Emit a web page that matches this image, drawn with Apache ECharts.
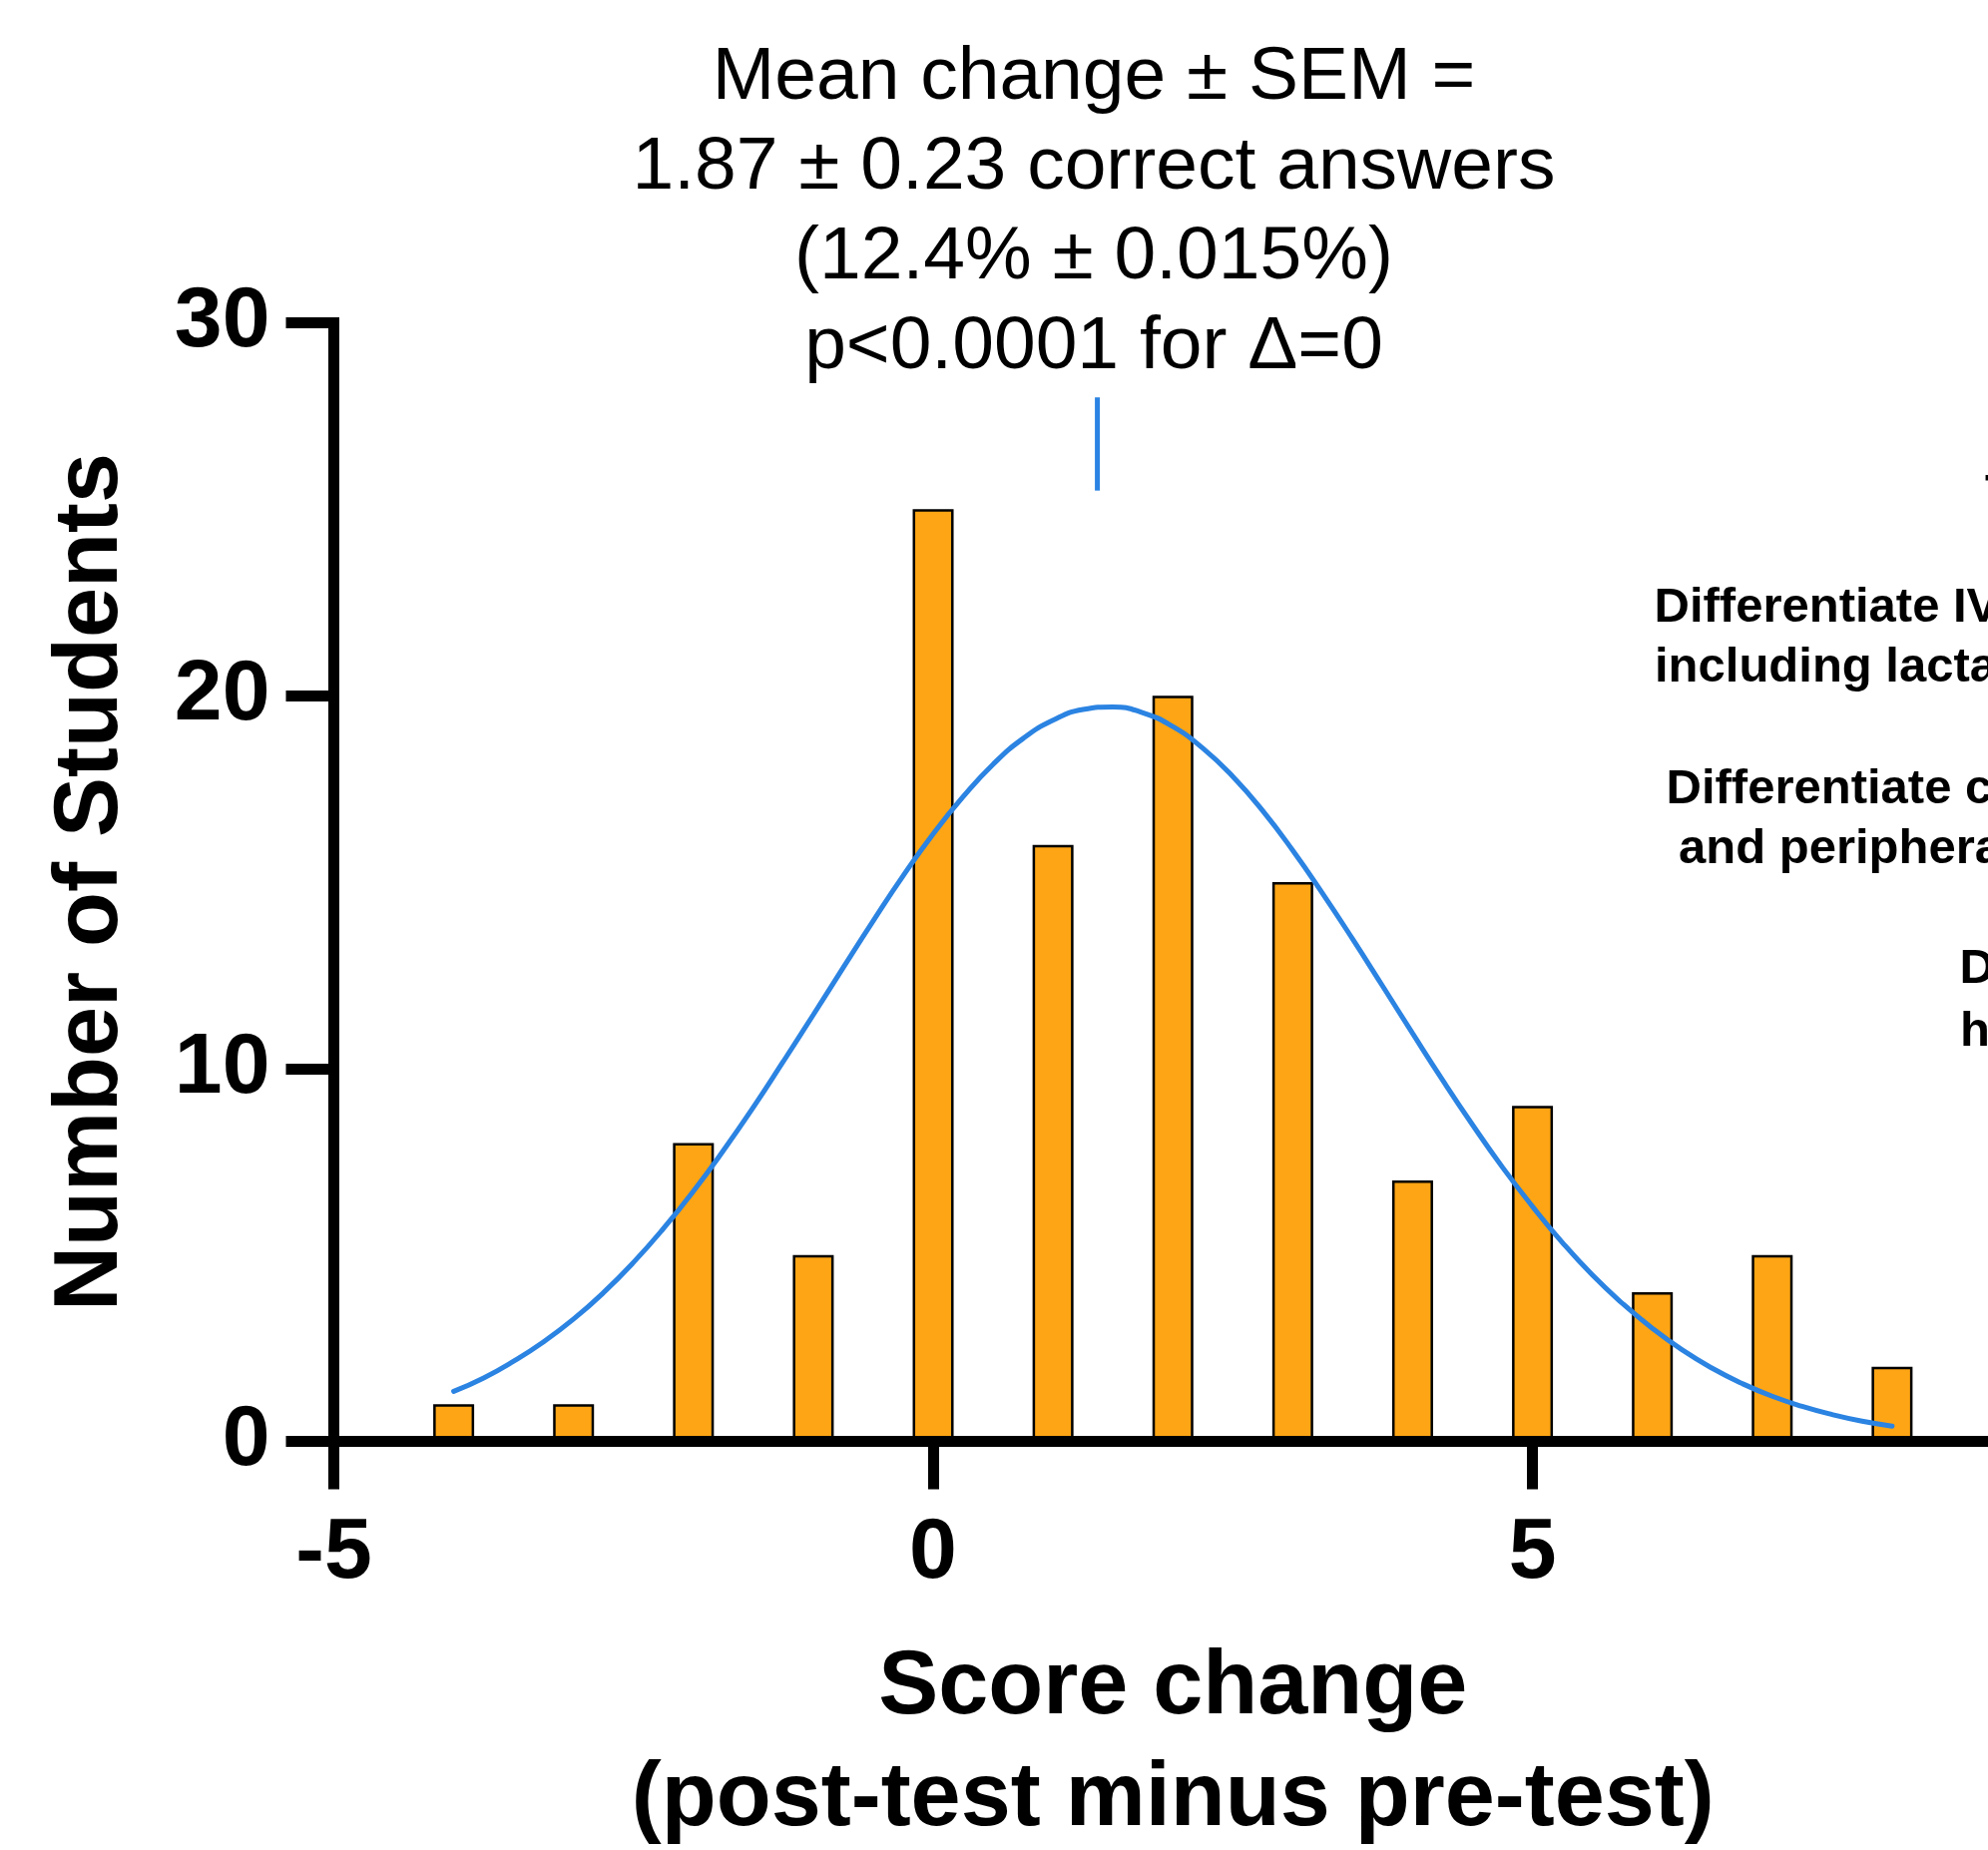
<!DOCTYPE html>
<html>
<head>
<meta charset="utf-8">
<script src="https://cdn.jsdelivr.net/npm/echarts@6/dist/echarts.min.js"></script>
<style>
  html, body { margin: 0; padding: 0; background: #ffffff; overflow: hidden; }
  #chart { width: 1992px; height: 1854px; }
</style>
</head>
<body>
<div id="chart"></div>
<script>
// ---- Data ----
const scoreChange   = [-4, -3, -2, -1, 0, 1, 2, 3, 4, 5, 6, 7, 8];
const studentCounts = [ 1,  1,  8,  5, 25, 16, 20, 15, 7, 9, 4, 5, 2];

// Gaussian fit curve (every 0.25)
const fitX = [-4, -3.75, -3.5, -3.25, -3, -2.75, -2.5, -2.25, -2, -1.75, -1.5, -1.25, -1, -0.75, -0.5, -0.25,
              0, 0.25, 0.5, 0.75, 1, 1.25, 1.5, 1.75, 2, 2.25, 2.5, 2.75, 3, 3.25, 3.5, 3.75,
              4, 4.25, 4.5, 4.75, 5, 5.25, 5.5, 5.75, 6, 6.25, 6.5, 6.75, 7, 7.25, 7.5, 7.75, 8];
const fitY = [1.34, 1.70, 2.15, 2.67, 3.28, 3.99, 4.80, 5.71, 6.71, 7.80, 8.96, 10.19, 11.44, 12.71, 13.96, 15.17,
              16.29, 17.29, 18.16, 18.85, 19.34, 19.63, 19.70, 19.54, 19.17, 18.59, 17.83, 16.91, 15.85, 14.69, 13.47, 12.21,
              10.94, 9.69, 8.49, 7.35, 6.30, 5.33, 4.46, 3.70, 3.03, 2.45, 1.96, 1.55, 1.21, 0.94, 0.72, 0.54, 0.41];

// Short blue mean marker above the curve
const meanMarkX = [1.37, 1.37];
const meanMarkY = [25.5, 28];

// Axis ticks
const xTickLabels = [-5, 0, 5];
const yTickLabels = [0, 10, 20, 30];

const titleLines = [
  'Mean change \u00b1 SEM =',
  '1.87 \u00b1 0.23 correct answers',
  '(12.4% \u00b1 0.015%)',
  'p<0.0001 for \u0394=0'
];
const xAxisTitle = 'Score change\n(post-test minus pre-test)';
const yAxisTitle = 'Number of Students';

// Annotation text at the right edge (cut off by the picture border)
const sideNotes = [
  'To',
  'Differentiate IV fluids',
  'including lactated Ringer\u2019s',
  'Differentiate central',
  'and peripheral lines',
  'Describe',
  'how'
];

// ---- Chart ----
const FONT = '"Liberation Sans", Arial, Helvetica, sans-serif';
const BLUE = '#2B83E2';
const ORANGE = '#FDA514';

const chart = echarts.init(document.getElementById('chart'), null, { renderer: 'canvas' });

const barData = scoreChange.map((x, i) => [x, studentCounts[i]]);
const fitData = fitX.map((x, i) => [x, fitY[i]]);
const meanData = meanMarkX.map((x, i) => [x, meanMarkY[i]]);

const sidePos = [
  [1989, 495],
  [1657.5, 609],
  [1658, 669],
  [1669.5, 791],
  [1682, 851],
  [1963.5, 971],
  [1964, 1034]
];

const graphics = [
  {
    type: 'text',
    x: 1096, y: 213,
    style: {
      text: titleLines.join('\n'),
      fill: '#000',
      fontFamily: FONT,
      fontSize: 75,
      fontWeight: 'normal',
      lineHeight: 90,
      align: 'center',
      verticalAlign: 'middle'
    },
    z: 10
  }
].concat(sideNotes.map((t, i) => ({
  type: 'text',
  x: sidePos[i][0], y: sidePos[i][1],
  style: {
    text: t,
    fill: '#000',
    fontFamily: FONT,
    fontSize: 49,
    fontWeight: 'bold',
    align: 'left',
    verticalAlign: 'middle'
  },
  z: 10
})));

const axisLineStyle = { color: '#000', width: 11, cap: 'square' };

chart.setOption({
  animation: false,
  backgroundColor: '#ffffff',
  grid: {
    left: 334.5, top: 323.5, width: 1681.5, height: 1121,
    containLabel: false,
    outerBoundsMode: 'none'
  },
  xAxis: {
    type: 'value',
    min: -5, max: 9, interval: 5,
    z: 5,
    splitLine: { show: false },
    axisLine: { show: true, onZero: false, lineStyle: axisLineStyle },
    axisTick: { show: true, inside: false, length: 48, lineStyle: { color: '#000', width: 11 } },
    axisLabel: {
      margin: 70,
      color: '#000',
      fontFamily: FONT, fontSize: 86, fontWeight: 'bold',
      formatter: v => (xTickLabels.indexOf(v) >= 0 ? String(v) : '')
    },
    name: xAxisTitle,
    nameLocation: 'middle',
    nameGap: 192,
    nameTextStyle: { color: '#000', fontFamily: FONT, fontSize: 90, fontWeight: 'bold', lineHeight: 112 }
  },
  yAxis: {
    type: 'value',
    min: 0, max: 30, interval: 10,
    z: 5,
    splitLine: { show: false },
    axisLine: { show: true, onZero: false, lineStyle: axisLineStyle },
    axisTick: { show: true, inside: false, length: 48, lineStyle: { color: '#000', width: 11 } },
    axisLabel: {
      margin: 64,
      color: '#000',
      fontFamily: FONT, fontSize: 86, fontWeight: 'bold',
      formatter: v => (yTickLabels.indexOf(v) >= 0 ? String(v) : '')
    },
    name: yAxisTitle,
    nameLocation: 'middle',
    nameGap: 197,
    nameTextStyle: { color: '#000', fontFamily: FONT, fontSize: 90, fontWeight: 'bold' }
  },
  series: [
    {
      type: 'bar',
      data: barData,
      barWidth: 41,
      itemStyle: { color: ORANGE, borderColor: '#000', borderWidth: 2.5 },
      z: 2
    },
    {
      type: 'line',
      data: fitData,
      smooth: 0.5,
      showSymbol: false,
      symbol: 'none',
      lineStyle: { color: BLUE, width: 5, cap: 'round' },
      z: 3
    },
    {
      type: 'line',
      data: meanData,
      showSymbol: false,
      symbol: 'none',
      lineStyle: { color: BLUE, width: 5 },
      z: 3
    }
  ],
  graphic: graphics
});
</script>
</body>
</html>
